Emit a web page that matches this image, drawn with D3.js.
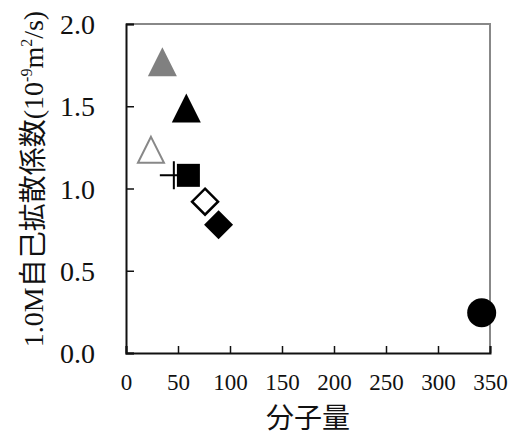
<!DOCTYPE html>
<html>
<head>
<meta charset="utf-8">
<script src="https://cdn.jsdelivr.net/npm/d3@7/dist/d3.min.js"></script>
<style>
body { margin: 0; background: #fff; }
text { font-family: "Liberation Serif", "Noto Sans CJK JP", serif; fill: #111; }
</style>
</head>
<body>
<svg id="chart"></svg>
<script>
// data
var molWeight = [35, 58, 24, 46, 60, 76, 89, 342];
var diffusion = [1.77, 1.49, 1.235, 1.08, 1.08, 0.92, 0.78, 0.245];
var markers = ['triGray', 'triBlack', 'triOpen', 'plus', 'square', 'diamondOpen', 'diamond', 'circle'];
var xTicks = [0, 50, 100, 150, 200, 250, 300, 350];
var yTicks = [0, 0.5, 1.0, 1.5, 2.0];

var svgWidth = 517, svgHeight = 440;
var plotLeft = 126, plotRight = 490, plotTop = 24, plotBottom = 353;

var svg = d3.select('#chart')
    .attr('width', svgWidth)
    .attr('height', svgHeight);

var xScale = d3.scaleLinear().domain([0, 350]).range([plotLeft, plotRight]);
var yScale = d3.scaleLinear().domain([0, 2]).range([plotBottom, plotTop]);

// top / right frame (grey)
svg.append('path')
    .attr('d', 'M' + plotLeft + ',' + plotTop + 'H' + plotRight + 'V' + plotBottom)
    .style('fill', 'none')
    .style('stroke', '#888')
    .style('stroke-width', 2);

// y axis
var yAxis = svg.append('g')
    .attr('transform', 'translate(' + plotLeft + ',0)')
    .call(d3.axisLeft(yScale).tickValues(yTicks).tickSize(-8).tickFormat(d3.format('.1f')));
yAxis.select('.domain').style('stroke', '#111').style('stroke-width', 2);
yAxis.selectAll('.tick line').style('stroke', '#111').style('stroke-width', 1.5);
yAxis.selectAll('text')
    .attr('x', -31)
    .attr('dy', '0.34em')
    .style('font-size', '28px');

// x axis
var xAxis = svg.append('g')
    .attr('transform', 'translate(0,' + plotBottom + ')')
    .call(d3.axisBottom(xScale).tickValues(xTicks).tickSize(-7));
xAxis.select('.domain').style('stroke', '#111').style('stroke-width', 2);
xAxis.selectAll('.tick line').style('stroke', '#111').style('stroke-width', 1.5);
xAxis.selectAll('text')
    .attr('y', 37)
    .attr('dy', 0)
    .style('font-size', '23px');

// markers
var triangle = function (cx, cy, s) {
    return 'M' + cx + ',' + (cy - s / 2) + 'L' + (cx + s / 2) + ',' + (cy + s / 2) + 'L' + (cx - s / 2) + ',' + (cy + s / 2) + 'Z';
};
var diamond = function (cx, cy, s) {
    return 'M' + cx + ',' + (cy - s / 2) + 'L' + (cx + s / 2) + ',' + cy + 'L' + cx + ',' + (cy + s / 2) + 'L' + (cx - s / 2) + ',' + cy + 'Z';
};

var pts = molWeight.map(function (d, i) {
    return { x: xScale(d), y: yScale(diffusion[i]), m: markers[i] };
});

pts.forEach(function (p) {
    if (p.m == 'triGray') {
        svg.append('path').attr('d', triangle(p.x, p.y, 29)).style('fill', '#808080');
    } else if (p.m == 'triBlack') {
        svg.append('path').attr('d', triangle(p.x, p.y, 29)).style('fill', '#000');
    } else if (p.m == 'triOpen') {
        svg.append('path').attr('d', triangle(p.x, p.y, 26)).style('fill', '#fff')
            .style('stroke', '#888').style('stroke-width', 2);
    } else if (p.m == 'plus') {
        svg.append('path').attr('d', 'M' + (p.x - 14) + ',' + p.y + 'H' + (p.x + 14) + 'M' + p.x + ',' + (p.y - 14) + 'V' + (p.y + 14))
            .style('stroke', '#000').style('stroke-width', 2);
    } else if (p.m == 'square') {
        svg.append('rect').attr('x', p.x - 11.5).attr('y', p.y - 11.5).attr('width', 23).attr('height', 23)
            .style('fill', '#000');
    } else if (p.m == 'diamondOpen') {
        svg.append('path').attr('d', diamond(p.x, p.y, 26)).style('fill', '#fff')
            .style('stroke', '#000').style('stroke-width', 2.5);
    } else if (p.m == 'diamond') {
        svg.append('path').attr('d', diamond(p.x, p.y, 29)).style('fill', '#000');
    } else if (p.m == 'circle') {
        svg.append('circle').attr('cx', p.x).attr('cy', p.y).attr('r', 14.5).style('fill', '#000');
    }
});

// axis titles
svg.append('text')
    .attr('x', 308)
    .attr('y', 428)
    .attr('text-anchor', 'middle')
    .style('font-size', '28px')
    .text('分子量');

var yTitle = svg.append('text')
    .attr('transform', 'translate(43,179) rotate(-90)')
    .attr('text-anchor', 'middle')
    .style('font-size', '28px');
yTitle.append('tspan').text('1.0M自己拡散係数(10');
yTitle.append('tspan').attr('dy', -11).style('font-size', '16px').text('-9');
yTitle.append('tspan').attr('dy', 11).text('m');
yTitle.append('tspan').attr('dy', -11).style('font-size', '16px').text('2');
yTitle.append('tspan').attr('dy', 11).text('/s)');
</script>
</body>
</html>
